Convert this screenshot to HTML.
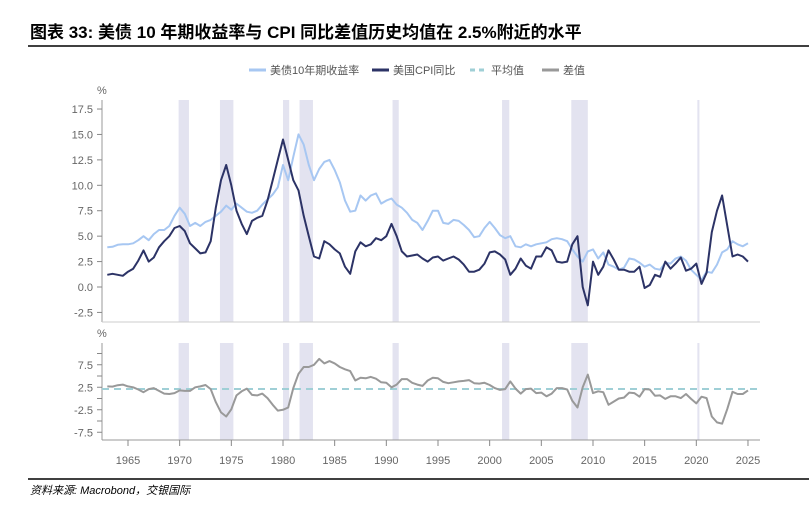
<!DOCTYPE html>
<html><head><meta charset="utf-8">
<style>
body{margin:0;background:#fff;width:809px;height:516px;overflow:hidden;font-family:"Liberation Sans","Noto Sans CJK SC",sans-serif}
svg{position:absolute;left:0;top:0}
</style></head>
<body>
<svg id="c" width="809" height="516">
<text x="30" y="38" font-size="17" font-weight="bold" fill="#000" font-family="Liberation Sans, Noto Sans CJK SC, sans-serif">图表 33: 美债 10 年期收益率与 CPI 同比差值历史均值在 2.5%附近的水平</text>
<line x1="28" y1="46" x2="809" y2="46" stroke="#000" stroke-width="1.5"/>
<g id="legend" font-size="11" fill="#555">
<line x1="249" y1="70" x2="266" y2="70" stroke="#a7c7f2" stroke-width="3"/>
<text x="270" y="74">美债10年期收益率</text>
<line x1="372" y1="70" x2="389" y2="70" stroke="#2c3366" stroke-width="3"/>
<text x="393" y="74">美国CPI同比</text>
<line x1="470" y1="70" x2="487" y2="70" stroke="#9fcfd6" stroke-width="3" stroke-dasharray="5,4"/>
<text x="491" y="74">平均值</text>
<line x1="542" y1="70" x2="559" y2="70" stroke="#999" stroke-width="3"/>
<text x="563" y="74">差值</text>
</g>
<text x="97" y="94" font-size="11" fill="#666">%</text>
<text x="97" y="337" font-size="11" fill="#666">%</text>
<line x1="28" y1="479" x2="809" y2="479" stroke="#000" stroke-width="1.5"/>
<text x="30" y="494" font-size="11" font-style="italic" fill="#000">资料来源: Macrobond，交银国际</text>
</svg>
<script>
const startYear = 1963, step = 0.5;
const yieldVals = [3.9,3.95,4.15,4.2,4.2,4.3,4.6,5.0,4.6,5.2,5.6,5.6,6.0,7.0,7.8,7.2,6.0,6.3,6.0,6.4,6.6,7.0,7.4,8.0,7.6,8.2,7.8,7.4,7.3,7.5,8.1,8.6,9.1,9.8,12.0,10.5,12.8,15.0,14.0,12.0,10.5,11.6,12.3,12.5,11.5,10.3,8.5,7.4,7.5,9.0,8.5,9.0,9.2,8.2,8.5,8.7,8.1,7.8,7.3,6.6,6.3,5.6,6.5,7.5,7.5,6.3,6.2,6.6,6.5,6.1,5.6,4.9,5.0,5.8,6.4,5.8,5.1,4.8,5.0,4.0,3.9,4.2,4.0,4.2,4.3,4.4,4.7,4.8,4.7,4.5,3.7,3.0,2.5,3.5,3.7,2.8,3.4,2.2,2.0,1.7,1.9,2.8,2.7,2.4,2.0,2.2,1.8,1.7,2.4,2.3,2.8,3.0,2.6,1.7,1.2,0.7,1.5,1.4,2.2,3.4,3.7,4.5,4.2,4.0,4.3];
const cpiVals = [1.2,1.3,1.2,1.1,1.5,1.8,2.6,3.6,2.5,2.9,3.9,4.5,5.0,5.8,6.0,5.5,4.3,3.8,3.3,3.4,4.5,7.8,10.5,12.0,10.0,7.5,6.2,5.2,6.5,6.8,7.0,8.5,10.5,12.5,14.5,12.5,10.5,9.5,7.0,5.0,3.0,2.8,4.5,4.2,3.7,3.3,2.0,1.3,3.5,4.4,4.0,4.2,4.8,4.6,5.0,6.2,5.0,3.5,3.0,3.1,3.2,2.8,2.5,2.9,3.0,2.6,2.8,3.0,2.7,2.2,1.5,1.5,1.7,2.3,3.4,3.5,3.2,2.7,1.2,1.8,2.8,2.1,1.8,3.0,3.0,3.9,3.6,2.5,2.4,2.5,4.2,5.0,0.0,-1.8,2.5,1.2,2.0,3.6,2.7,1.7,1.7,1.5,1.5,2.0,-0.1,0.2,1.2,1.0,2.5,1.8,2.3,2.9,1.6,1.8,2.3,0.3,1.4,5.4,7.5,9.0,6.0,3.0,3.2,3.0,2.5];
const avgDiff = 2.1;
const recStart = [1969.9,1973.9,1980.0,1981.6,1990.6,2001.2,2007.9,2020.1];
const recEnd =   [1970.9,1975.2,1980.6,1982.9,1991.2,2001.9,2009.5,2020.3];
const xTicks = [1965,1970,1975,1980,1985,1990,1995,2000,2005,2010,2015,2020,2025];
const topTicks = [17.5,15.0,12.5,10.0,7.5,5.0,2.5,0.0,-2.5];
const botTicks = [7.5,2.5,-2.5,-7.5];
const botMinor = [10,5,0,-5];

const NS="http://www.w3.org/2000/svg";
const svg=document.getElementById('c');
const X=y=>128+(y-1965)*10.333;
const YT=v=>287-v*10.17;
const YB=v=>398.5-v*4.5;
const L=102,R=760;
function mk(t,a,parent){const e=document.createElementNS(NS,t);for(const k in a)e.setAttribute(k,a[k]);(parent||svg).appendChild(e);return e;}

recStart.forEach((s,i)=>{
  let r=mk('rect',{x:X(s),y:100,width:X(recEnd[i])-X(s),height:222,fill:'#e3e3f0'});
  
  
  let r2=mk('rect',{x:X(s),y:343,width:X(recEnd[i])-X(s),height:97,fill:'#e3e3f0'});
  
  
});
let a1=mk('line',{x1:L,y1:100,x2:L,y2:322,stroke:'#999'});


let a2=mk('line',{x1:L,y1:322,x2:R,y2:322,stroke:'#ccc'});


let a3=mk('line',{x1:L,y1:343,x2:L,y2:440,stroke:'#999'});


let a4=mk('line',{x1:L,y1:440,x2:R,y2:440,stroke:'#999'});



topTicks.forEach(v=>{
  mk('line',{x1:L-5,y1:YT(v),x2:L,y2:YT(v),stroke:'#888'});
  let t=mk('text',{x:L-9,y:YT(v)+4,'font-size':11,fill:'#666','text-anchor':'end'});
  t.textContent=v.toFixed(1);
  
  
});
botTicks.forEach(v=>{
  mk('line',{x1:L-5,y1:YB(v),x2:L,y2:YB(v),stroke:'#888'});
  let t=mk('text',{x:L-9,y:YB(v)+4,'font-size':11,fill:'#666','text-anchor':'end'});
  t.textContent=v.toFixed(1);
  
  
});
botMinor.forEach(v=>mk('line',{x1:L-5,y1:YB(v),x2:L,y2:YB(v),stroke:'#888'}));
xTicks.forEach(y=>{
  mk('line',{x1:X(y),y1:440,x2:X(y),y2:446,stroke:'#888'});
  let t=mk('text',{x:X(y),y:464,'font-size':11,fill:'#666','text-anchor':'middle'});
  t.textContent=y;
  
  
});

function path(vals,fy,color,w,name){
  const d=vals.map((v,i)=>(i?'L':'M')+X(startYear+i*step).toFixed(1)+','+fy(v).toFixed(1)).join('');
  const p=mk('path',{d:d,fill:'none',stroke:color,'stroke-width':w,'stroke-linejoin':'round'});
  
  
}
path(yieldVals,YT,'#a7c7f2',2,'yield-line');
path(cpiVals,YT,'#2c3366',2,'cpi-line');
const diffVals=yieldVals.map((v,i)=>v-cpiVals[i]);
let av=mk('line',{x1:L,y1:YB(avgDiff),x2:R,y2:YB(avgDiff),stroke:'#9fcfd6','stroke-width':2,'stroke-dasharray':'7,5'});


path(diffVals,YB,'#999',2,'diff-line');
</script>
</body></html>
